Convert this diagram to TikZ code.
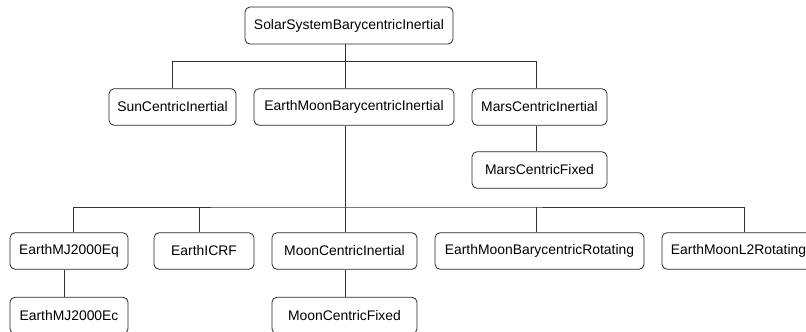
\documentclass[tikz,border=0pt]{standalone}
\usepackage{fontspec}
\setmainfont{Liberation Sans}
\begin{document}
\begin{tikzpicture}[x=1pt,y=-1pt,
  frame/.style={draw=black!85, line width=0.8pt, rounded corners=5pt, fill=white,
    minimum height=36.5pt, inner sep=0pt, font=\fontsize{13.9}{16.7}\selectfont},
  link/.style={draw=black!80, line width=0.8pt}]
\useasboundingbox (0,0) rectangle (806,332);
\clip (0,0) rectangle (806,332);
\fill[white] (0,0) rectangle (806,332);

% frames
\node[frame, minimum width=208pt, minimum height=37pt] (root) at (349,25.5) {SolarSystemBarycentricInertial};
\node[frame, minimum width=127pt] (sun)  at (172.5,107) {SunCentricInertial};
\node[frame, minimum width=200pt] (embi) at (354,107) {EarthMoonBarycentricInertial};
\node[frame, minimum width=135pt] (mars) at (539.5,107) {MarsCentricInertial};
\node[frame, minimum width=135pt] (marsfix) at (539.5,170) {MarsCentricFixed};
\node[frame, minimum width=118pt] (eq)   at (69,251) {EarthMJ2000Eq};
\node[frame, minimum width=100pt] (icrf) at (204,251) {EarthICRF};
\node[frame, minimum width=145pt] (moon) at (344.5,251) {MoonCentricInertial};
\node[frame, minimum width=209pt] (embrot) at (539.5,251) {EarthMoonBarycentricRotating};
\node[frame, minimum width=153pt] (l2) at (738.5,251) {EarthMoonL2Rotating};
\node[frame, minimum width=118pt] (ec) at (69,315.5) {EarthMJ2000Ec};
\node[frame, minimum width=145pt] (moonfix) at (344.5,315.5) {MoonCentricFixed};

% bus junctions
\coordinate (bus1) at (345,61.5);
\coordinate (bus2) at (345,207);

% connectors
\draw[link] ([xshift=-4pt]root.south) -- (bus1);
\draw[link] ([xshift=-0.5pt]sun.north) |- (bus1) -| ([xshift=-3.5pt]mars.north);
\draw[link] (bus1) -- ([xshift=-9pt]embi.north);
\draw[link] ([xshift=-3.5pt]mars.south) -- ([xshift=-3.5pt]marsfix.north);
\draw[link] ([xshift=-9pt]embi.south) -- (bus2);
\draw[link] ([xshift=4pt]eq.north) |- (bus2) -| ([xshift=5.5pt]l2.north);
\draw[link] ([xshift=-5pt]icrf.north) -- ([xshift=-5pt]icrf.north |- bus2);
\draw[link] (bus2) -- (moon.north -| bus2);
\draw[link] ([xshift=-3.5pt]embrot.north) -- ([xshift=-3.5pt]embrot.north |- bus2);
\draw[link] ([xshift=-5pt]eq.south) -- ([xshift=-5pt]ec.north);
\draw[link] (moon.south -| bus2) -- (moonfix.north -| bus2);
\end{tikzpicture}
\end{document}
